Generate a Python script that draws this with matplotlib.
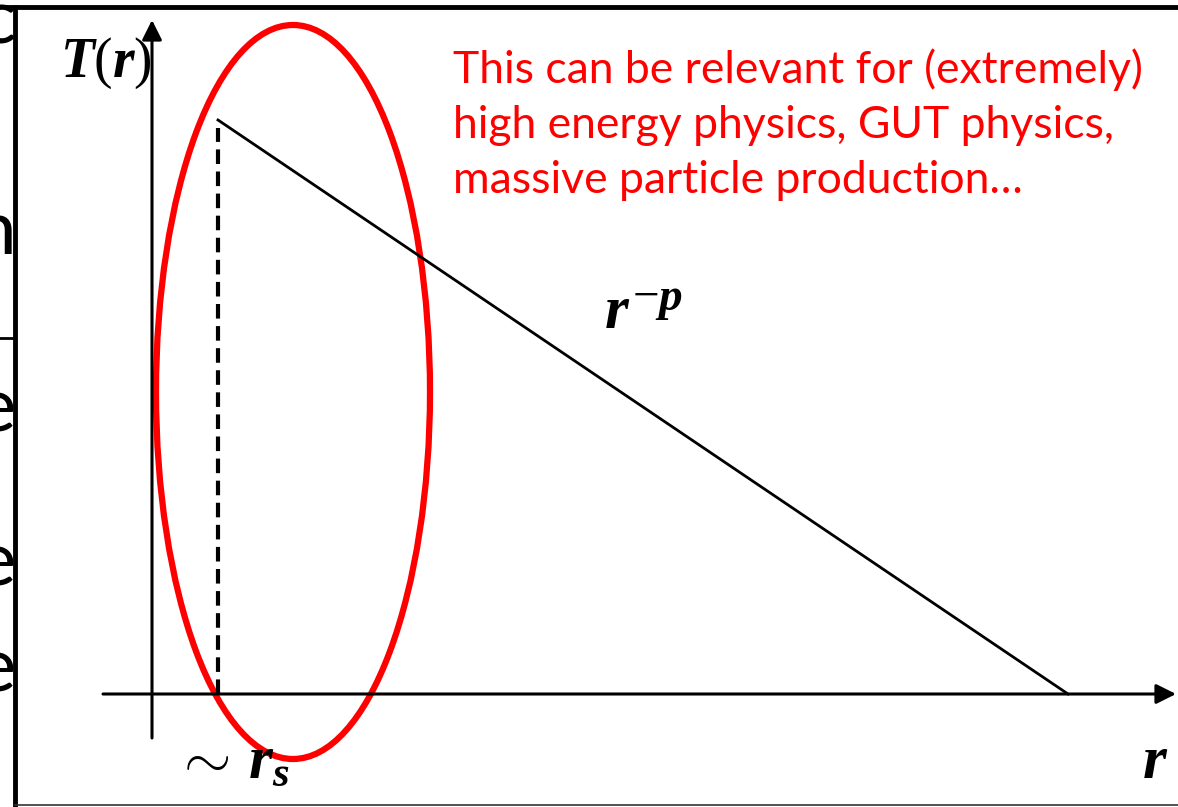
import numpy as np
import matplotlib
matplotlib.use("Agg")
import matplotlib.pyplot as plt
from matplotlib.patches import Ellipse

plt.rcParams['mathtext.fontset'] = 'custom'
plt.rcParams['mathtext.rm'] = 'Liberation Serif'
plt.rcParams['mathtext.it'] = 'Liberation Serif:italic:bold'
plt.rcParams['mathtext.bf'] = 'Liberation Serif:bold'

# schematic profile T(r) ~ r^-p, starting near r_s
r_s = 66
r_end = 916
T_max = 574
r_line = [r_s, r_end]
T_line = [T_max, 0]

# region of interest around r_s
ell_center = (141, 302)
ell_size = (274, 734)

note = "This can be relevant for (extremely)\nhigh energy physics, GUT physics,\nmassive particle production…"
side_letters = ["c", "n", "e", "e", "e"]
side_y = [650, 440, 262, 108, 2]

fig = plt.figure(figsize=(11.78, 8.07), dpi=100)
ax = fig.add_axes([0, 0, 1, 1])
ax.set_xlim(-152, 1026)
ax.set_ylim(-113, 694)
ax.axis('off')

# cropped slide text on the left edge
for s, y in zip(side_letters, side_y):
    ax.text(-136, y, s, fontsize=55, family='Lato', ha='right', va='baseline')
ax.plot([-152, -139], [356, 356], color='black', lw=2)

# frame
ax.plot([-147, 1030], [687, 687], color='black', lw=3.5, solid_capstyle='butt')
ax.plot([-137, -137], [689, -120], color='black', lw=3.5, solid_capstyle='butt')
ax.plot([-137, 1030], [-111, -111], color='#333333', lw=1.2)

# axes arrows
ax.annotate('', xy=(1024, 0), xytext=(-49, 0),
            arrowprops=dict(arrowstyle='-|>', color='black', lw=2.2, mutation_scale=30, shrinkA=0, shrinkB=0))
ax.annotate('', xy=(0, 674), xytext=(0, -44),
            arrowprops=dict(arrowstyle='-|>', color='black', lw=2.2, mutation_scale=30, shrinkA=0, shrinkB=0))

ax.plot(r_line, T_line, color='black', lw=2)
ax.plot([r_s, r_s], [0, T_max - 8], color='black', lw=3, linestyle=(0, (3.5, 1.8)))

ax.add_patch(Ellipse(ell_center, ell_size[0], ell_size[1], fill=False, ec='red', lw=4.5))

ax.text(-92, 617, r'$T\mathrm{(}r\mathrm{)}$', fontsize=40, ha='left', va='baseline')
ax.text(22, -84, r'$\sim\, r_s$', fontsize=44, ha='left', va='baseline')
ax.text(990, -84, r'$r$', fontsize=44, ha='left', va='baseline')
ax.text(452, 366, r'$r$', fontsize=44, ha='left', va='baseline')
ax.text(480, 384, r'$\mathrm{-}p$', fontsize=34, ha='left', va='baseline')

ax.text(301, 501, note, fontsize=32, family='Lato', color='red', ha='left', va='baseline',
        linespacing=1.42)

fig.savefig('out.png', dpi=100)
